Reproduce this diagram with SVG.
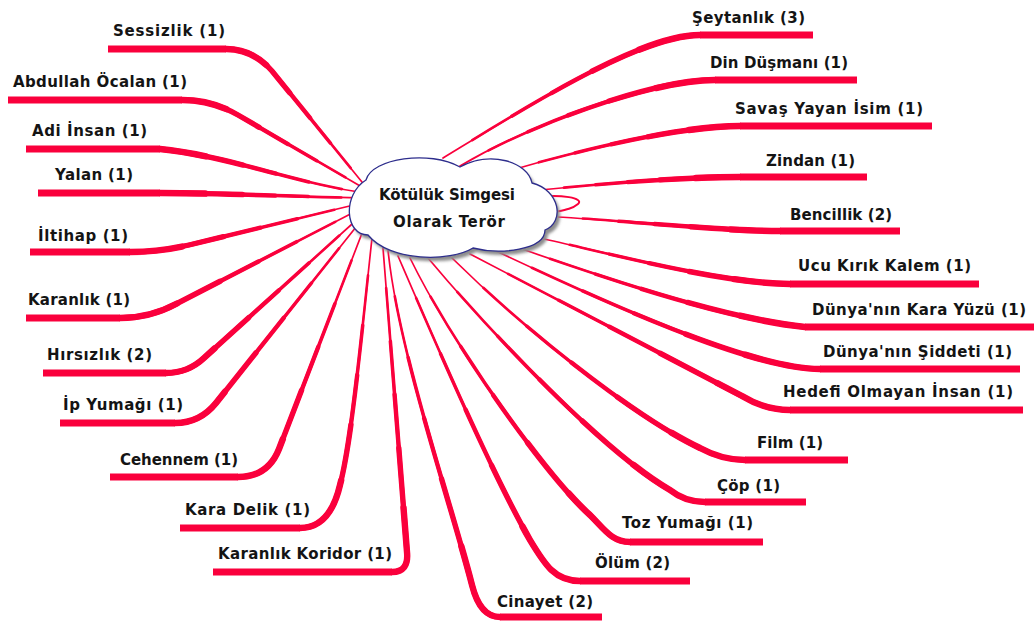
<svg xmlns="http://www.w3.org/2000/svg" xmlns:xlink="http://www.w3.org/1999/xlink" width="1034" height="621" viewBox="0 0 1034 621">
<style>
.lbl{font-family:"DejaVu Sans","Liberation Sans",sans-serif;font-weight:bold;font-size:15px;fill:#141414}
.ctr{font-family:"DejaVu Sans","Liberation Sans",sans-serif;font-weight:bold;font-size:15px;fill:#141414;text-anchor:middle}
#connectors use,#connectors path{fill:none;stroke:#fa003c;stroke-linecap:round}
#connectors .s1{stroke-width:1.7}
#connectors .s2{stroke-width:2.6;stroke-dasharray:88 200;stroke-dashoffset:-12}
#connectors .s3{stroke-width:3.5;stroke-dasharray:72 200;stroke-dashoffset:-28}
#connectors .s4{stroke-width:4.4;stroke-dasharray:56 200;stroke-dashoffset:-44}
#connectors .s5{stroke-width:5.4;stroke-dasharray:40 200;stroke-dashoffset:-60}
#connectors .s6{stroke-width:6.4;stroke-dasharray:22 200;stroke-dashoffset:-78}
#connectors .bar{stroke-width:7;stroke-linecap:butt}
#connectors .loop{stroke-width:2}
</style>
<defs>
<filter id="blur" x="-10%" y="-10%" width="120%" height="130%"><feGaussianBlur stdDeviation="1.6"/></filter>
<path id="cloudShape" d="M366,180 C372,158 430,150 460,167 C490,150 528,162 532,183 C560,190 565,222 545,230 C545,250 500,255 473,248 C450,262 390,262 368,235 C345,235 342,195 366,180 Z"/>
<path id="pL1" pathLength="100" d="M366,187 L272,71 Q253,49 226,49"/>
<path id="pL2" pathLength="100" d="M367,190 L238,115 Q212,100 182,100"/>
<path id="pL3" pathLength="100" d="M367,193 C300,185 230,156 160,149"/>
<path id="pL4" pathLength="100" d="M366,198 C300,197 220,193 160,193"/>
<path id="pL5" pathLength="100" d="M362,203 L189,245 Q160,252 130,252"/>
<path id="pL6" pathLength="100" d="M364,207 L176,304 Q150,318 120,318"/>
<path id="pL7" pathLength="100" d="M362,215 L204,358 Q188,373 166,373"/>
<path id="pL8" pathLength="100" d="M360,222 L216,403 Q200,423 175,423"/>
<path id="pL9" pathLength="100" d="M364,228 L279,449 Q268,477 238,477"/>
<path id="pL10" pathLength="100" d="M372,238 C362,330 352,440 340,485 Q330,528 300,528"/>
<path id="pL11" pathLength="100" d="M383,248 L407,552 Q409,572 392,572"/>
<path id="pR1" pathLength="100" d="M443,158 C530,105 640,35 700,35"/>
<path id="pR2" pathLength="100" d="M460,166 C530,125 650,80 715,80"/>
<path id="pR3" pathLength="100" d="M512,170 C580,150 680,126 740,126"/>
<path id="pR4" pathLength="100" d="M540,190 C600,184 680,177 740,177"/>
<path id="pR5" pathLength="100" d="M556,217 C620,220 720,231 780,231"/>
<path id="pR6" pathLength="100" d="M540,238 C620,256 720,283 790,284"/>
<path id="pR7" pathLength="100" d="M516,247 C600,276 720,318 805,327"/>
<path id="pR8" pathLength="100" d="M494,250 C600,300 750,369 820,369"/>
<path id="pR9" pathLength="100" d="M470,254 L742,396 Q765,410 790,410"/>
<path id="pR10" pathLength="100" d="M452,258 C530,335 640,420 700,448 Q722,460 745,460"/>
<path id="pR11" pathLength="100" d="M428,258 C480,320 600,450 670,490 Q685,502 705,502"/>
<path id="pR12" pathLength="100" d="M410,258 C450,340 545,475 590,515 C605,530 612,542 630,542"/>
<path id="pR13" pathLength="100" d="M398,256 C430,330 490,470 530,540 C545,565 555,581 580,581"/>
<path id="pR14" pathLength="100" d="M388,250 C398,350 450,500 472,585 Q480,617 500,617"/>
</defs>
<rect width="1034" height="621" fill="#ffffff"/>
<g id="connectors">
<use href="#pL1" class="s1"/><use href="#pL1" class="s2"/><use href="#pL1" class="s3"/><use href="#pL1" class="s4"/><use href="#pL1" class="s5"/><use href="#pL1" class="s6"/><path class="bar" d="M226,49 H108"/>
<use href="#pL2" class="s1"/><use href="#pL2" class="s2"/><use href="#pL2" class="s3"/><use href="#pL2" class="s4"/><use href="#pL2" class="s5"/><use href="#pL2" class="s6"/><path class="bar" d="M182,100 H8"/>
<use href="#pL3" class="s1"/><use href="#pL3" class="s2"/><use href="#pL3" class="s3"/><use href="#pL3" class="s4"/><use href="#pL3" class="s5"/><use href="#pL3" class="s6"/><path class="bar" d="M160,149 H26"/>
<use href="#pL4" class="s1"/><use href="#pL4" class="s2"/><use href="#pL4" class="s3"/><use href="#pL4" class="s4"/><use href="#pL4" class="s5"/><use href="#pL4" class="s6"/><path class="bar" d="M160,193 H38"/>
<use href="#pL5" class="s1"/><use href="#pL5" class="s2"/><use href="#pL5" class="s3"/><use href="#pL5" class="s4"/><use href="#pL5" class="s5"/><use href="#pL5" class="s6"/><path class="bar" d="M130,252 H30"/>
<use href="#pL6" class="s1"/><use href="#pL6" class="s2"/><use href="#pL6" class="s3"/><use href="#pL6" class="s4"/><use href="#pL6" class="s5"/><use href="#pL6" class="s6"/><path class="bar" d="M120,318 H26"/>
<use href="#pL7" class="s1"/><use href="#pL7" class="s2"/><use href="#pL7" class="s3"/><use href="#pL7" class="s4"/><use href="#pL7" class="s5"/><use href="#pL7" class="s6"/><path class="bar" d="M166,373 H43"/>
<use href="#pL8" class="s1"/><use href="#pL8" class="s2"/><use href="#pL8" class="s3"/><use href="#pL8" class="s4"/><use href="#pL8" class="s5"/><use href="#pL8" class="s6"/><path class="bar" d="M175,423 H60"/>
<use href="#pL9" class="s1"/><use href="#pL9" class="s2"/><use href="#pL9" class="s3"/><use href="#pL9" class="s4"/><use href="#pL9" class="s5"/><use href="#pL9" class="s6"/><path class="bar" d="M238,477 H110"/>
<use href="#pL10" class="s1"/><use href="#pL10" class="s2"/><use href="#pL10" class="s3"/><use href="#pL10" class="s4"/><use href="#pL10" class="s5"/><use href="#pL10" class="s6"/><path class="bar" d="M300,528 H180"/>
<use href="#pL11" class="s1"/><use href="#pL11" class="s2"/><use href="#pL11" class="s3"/><use href="#pL11" class="s4"/><use href="#pL11" class="s5"/><use href="#pL11" class="s6"/><path class="bar" d="M392,572 H213"/>
<use href="#pR1" class="s1"/><use href="#pR1" class="s2"/><use href="#pR1" class="s3"/><use href="#pR1" class="s4"/><use href="#pR1" class="s5"/><use href="#pR1" class="s6"/><path class="bar" d="M700,35 H813"/>
<use href="#pR2" class="s1"/><use href="#pR2" class="s2"/><use href="#pR2" class="s3"/><use href="#pR2" class="s4"/><use href="#pR2" class="s5"/><use href="#pR2" class="s6"/><path class="bar" d="M715,80 H857"/>
<use href="#pR3" class="s1"/><use href="#pR3" class="s2"/><use href="#pR3" class="s3"/><use href="#pR3" class="s4"/><use href="#pR3" class="s5"/><use href="#pR3" class="s6"/><path class="bar" d="M740,126 H932"/>
<use href="#pR4" class="s1"/><use href="#pR4" class="s2"/><use href="#pR4" class="s3"/><use href="#pR4" class="s4"/><use href="#pR4" class="s5"/><use href="#pR4" class="s6"/><path class="bar" d="M740,177 H867"/>
<use href="#pR5" class="s1"/><use href="#pR5" class="s2"/><use href="#pR5" class="s3"/><use href="#pR5" class="s4"/><use href="#pR5" class="s5"/><use href="#pR5" class="s6"/><path class="bar" d="M780,231 H900"/>
<path class="loop" d="M538,197 C560,194 585,198 578,204 C572,209 565,210 555,212"/>
<use href="#pR6" class="s1"/><use href="#pR6" class="s2"/><use href="#pR6" class="s3"/><use href="#pR6" class="s4"/><use href="#pR6" class="s5"/><use href="#pR6" class="s6"/><path class="bar" d="M790,284 H979"/>
<use href="#pR7" class="s1"/><use href="#pR7" class="s2"/><use href="#pR7" class="s3"/><use href="#pR7" class="s4"/><use href="#pR7" class="s5"/><use href="#pR7" class="s6"/><path class="bar" d="M805,327 H1034"/>
<use href="#pR8" class="s1"/><use href="#pR8" class="s2"/><use href="#pR8" class="s3"/><use href="#pR8" class="s4"/><use href="#pR8" class="s5"/><use href="#pR8" class="s6"/><path class="bar" d="M820,369 H1020"/>
<use href="#pR9" class="s1"/><use href="#pR9" class="s2"/><use href="#pR9" class="s3"/><use href="#pR9" class="s4"/><use href="#pR9" class="s5"/><use href="#pR9" class="s6"/><path class="bar" d="M790,410 H1023"/>
<use href="#pR10" class="s1"/><use href="#pR10" class="s2"/><use href="#pR10" class="s3"/><use href="#pR10" class="s4"/><use href="#pR10" class="s5"/><use href="#pR10" class="s6"/><path class="bar" d="M745,460 H848"/>
<use href="#pR11" class="s1"/><use href="#pR11" class="s2"/><use href="#pR11" class="s3"/><use href="#pR11" class="s4"/><use href="#pR11" class="s5"/><use href="#pR11" class="s6"/><path class="bar" d="M705,502 H806"/>
<use href="#pR12" class="s1"/><use href="#pR12" class="s2"/><use href="#pR12" class="s3"/><use href="#pR12" class="s4"/><use href="#pR12" class="s5"/><use href="#pR12" class="s6"/><path class="bar" d="M630,542 H763"/>
<use href="#pR13" class="s1"/><use href="#pR13" class="s2"/><use href="#pR13" class="s3"/><use href="#pR13" class="s4"/><use href="#pR13" class="s5"/><use href="#pR13" class="s6"/><path class="bar" d="M580,581 H690"/>
<use href="#pR14" class="s1"/><use href="#pR14" class="s2"/><use href="#pR14" class="s3"/><use href="#pR14" class="s4"/><use href="#pR14" class="s5"/><use href="#pR14" class="s6"/><path class="bar" d="M500,617 H602"/>
</g>
<g id="center">
<use href="#cloudShape" transform="translate(3,4)" fill="#8c8c8c" filter="url(#blur)"/>
<use href="#cloudShape" fill="#ffffff" stroke="#2d2d8c" stroke-width="1.3"/>
<text class="ctr" x="447" y="200" textLength="136">Kötülük Simgesi</text>
<text class="ctr" x="449" y="227" textLength="112">Olarak Terör</text>
</g>
<g id="n-sessizlik"><text class="lbl" x="113" y="36" textLength="112">Sessizlik (1)</text></g>
<g id="n-abdullah"><text class="lbl" x="13" y="87" textLength="174">Abdullah Öcalan (1)</text></g>
<g id="n-adi"><text class="lbl" x="32" y="136" textLength="115">Adi İnsan (1)</text></g>
<g id="n-yalan"><text class="lbl" x="55" y="180" textLength="78">Yalan (1)</text></g>
<g id="n-iltihap"><text class="lbl" x="38" y="241" textLength="90">İltihap (1)</text></g>
<g id="n-karanlik"><text class="lbl" x="28" y="305" textLength="102">Karanlık (1)</text></g>
<g id="n-hirsizlik"><text class="lbl" x="47" y="360" textLength="105">Hırsızlık (2)</text></g>
<g id="n-ip"><text class="lbl" x="63" y="410" textLength="120">İp Yumağı (1)</text></g>
<g id="n-cehennem"><text class="lbl" x="120" y="465" textLength="118">Cehennem (1)</text></g>
<g id="n-karadelik"><text class="lbl" x="185" y="515" textLength="125">Kara Delik (1)</text></g>
<g id="n-koridor"><text class="lbl" x="218" y="559" textLength="174">Karanlık Koridor (1)</text></g>
<g id="n-seytanlik"><text class="lbl" x="692" y="23" textLength="113">Şeytanlık (3)</text></g>
<g id="n-din"><text class="lbl" x="710" y="68" textLength="138">Din Düşmanı (1)</text></g>
<g id="n-savas"><text class="lbl" x="735" y="114" textLength="188">Savaş Yayan İsim (1)</text></g>
<g id="n-zindan"><text class="lbl" x="766" y="166" textLength="89">Zindan (1)</text></g>
<g id="n-bencillik"><text class="lbl" x="790" y="220" textLength="102">Bencillik (2)</text></g>
<g id="n-ucu"><text class="lbl" x="798" y="271" textLength="173">Ucu Kırık Kalem (1)</text></g>
<g id="n-karayuzu"><text class="lbl" x="812" y="315" textLength="214">Dünya'nın Kara Yüzü (1)</text></g>
<g id="n-siddeti"><text class="lbl" x="823" y="357" textLength="189">Dünya'nın Şiddeti (1)</text></g>
<g id="n-hedefi"><text class="lbl" x="783" y="397" textLength="230">Hedefi Olmayan İnsan (1)</text></g>
<g id="n-film"><text class="lbl" x="757" y="448" textLength="66">Film (1)</text></g>
<g id="n-cop"><text class="lbl" x="717" y="491" textLength="63">Çöp (1)</text></g>
<g id="n-toz"><text class="lbl" x="622" y="528" textLength="131">Toz Yumağı (1)</text></g>
<g id="n-olum"><text class="lbl" x="595" y="568" textLength="75">Ölüm (2)</text></g>
<g id="n-cinayet"><text class="lbl" x="497" y="607" textLength="96">Cinayet (2)</text></g>
</svg>
